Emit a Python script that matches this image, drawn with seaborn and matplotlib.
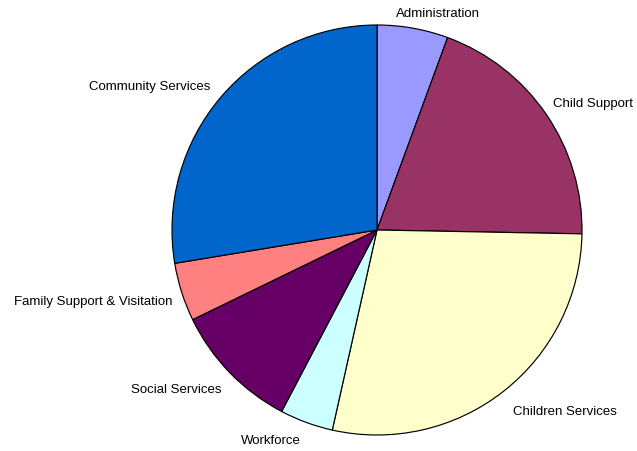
import numpy as np
import matplotlib
matplotlib.use("Agg")
import matplotlib.pyplot as plt
import seaborn as sns

# Budget share by program area (percent of total), clockwise from 12 o'clock
categories = ["Administration", "Child Support", "Children Services", "Workforce",
              "Social Services", "Family Support & Visitation", "Community Services"]
shares = [5.6, 19.7, 28.2, 4.2, 10.1, 4.6, 27.6]
colors = ["#9999FF", "#993366", "#FFFFCC", "#CCFFFF", "#660066", "#FF8080", "#0066CC"]

sns.set_theme(style="white")
plt.rcParams["font.family"] = ["Liberation Sans", "DejaVu Sans"]

W, H, DPI = 637, 451, 100
fig = plt.figure(figsize=(W / DPI, H / DPI), dpi=DPI)
ax = fig.add_axes([0, 0, 1, 1])

wedges, _ = ax.pie(
    shares,
    colors=colors,
    startangle=90,
    counterclock=False,
    radius=1.0,
    wedgeprops=dict(edgecolor="black", linewidth=0.85),
)

# Label placement: just outside each wedge, anchored on the side facing the pie
nudges = {
    "Administration": (-0.095, 0.0, "left"),
    "Child Support": (-0.025, 0.01, "left"),
    "Children Services": (0.0, -0.045, "left"),
    "Workforce": (-0.005, -0.025, "right"),
    "Social Services": (0.01, -0.035, "right"),
    "Family Support & Visitation": (0.02, -0.025, "right"),
    "Community Services": (0.005, 0.005, "right"),
}
for w, name in zip(wedges, categories):
    mid = np.deg2rad((w.theta1 + w.theta2) / 2)
    x, y = 1.07 * np.cos(mid), 1.07 * np.sin(mid)
    dx, dy, ha = nudges[name]
    ax.text(x + dx, y + dy, name, ha=ha, va="center", fontsize=9.5, color="black")

# Pie center sits at (377, 230) px with a 205 px radius
scale = 205.0
cx, cy = 377.0, 230.0
ax.set_xlim(-cx / scale, (W - cx) / scale)
ax.set_ylim(-(H - cy) / scale, cy / scale)
ax.set_aspect("auto")
ax.axis("off")

fig.savefig("out.png", dpi=DPI, facecolor="white")
